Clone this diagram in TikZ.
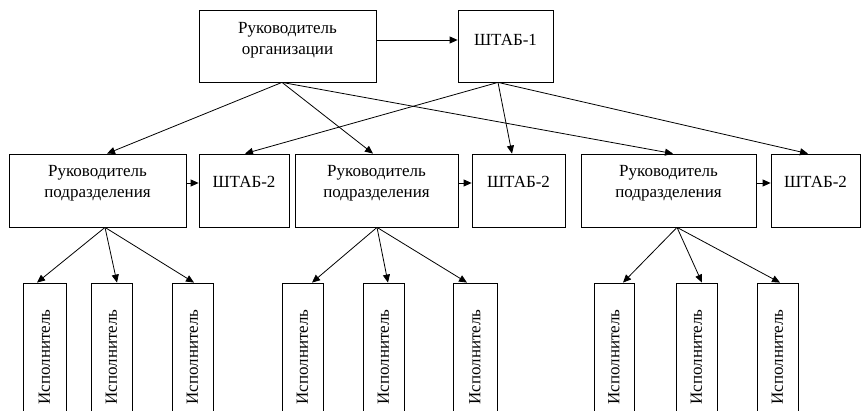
\documentclass[tikz,border=0pt]{standalone}
\usepackage{fontspec}
\setmainfont{Liberation Serif}
\usetikzlibrary{arrows.meta}
\begin{document}
\begin{tikzpicture}[x=1pt,y=-1pt,
  box/.style={draw, line width=0.8pt, inner sep=0pt, minimum height=#1},
  box/.default=73pt,
  lbl/.style={font=\fontsize{17}{21}\selectfont, align=center, inner sep=0pt},
  vlbl/.style={font=\fontsize{17}{21}\selectfont, inner sep=0pt, rotate=90},
  arr/.style={line width=0.8pt, -{Triangle[length=8pt,width=7pt]}}]
\useasboundingbox (0,0) rectangle (862,411);
\clip (0,0) rectangle (862,411);
% top row
\node[box=72pt, minimum width=177pt] (org) at (287.5,46) {};
\node[lbl] (orgt) at ([yshift=6pt]org.center) {Руководитель\\организации};
\node[box=72pt, minimum width=95pt] (s1) at (505.5,46) {};
\node[lbl] (s1t) at ([yshift=6pt]s1.center) {ШТАБ-1};
% second row
\node[box, minimum width=177pt] (b1) at (97.5,190.5) {};
\node[box, minimum width=90pt] (h1) at (244,190.5) {};
\node[box, minimum width=163pt] (b2) at (376.5,190.5) {};
\node[box, minimum width=93pt] (h2) at (518.5,190.5) {};
\node[box, minimum width=175pt] (b3) at (668.5,190.5) {};
\node[box, minimum width=89pt] (h3) at (815.5,190.5) {};
\foreach \n in {b1,b2,b3}
  \node[lbl] (\n t) at ([yshift=7.5pt]\n.center) {Руководитель\\подразделения};
\foreach \n in {h1,h2,h3}
  \node[lbl] (\n t) at ([yshift=9pt]\n.center) {ШТАБ-2};
% executors
\foreach \n/\x/\w in {e11/44.5/43, e12/111.5/41, e13/192.5/41,
                      e21/302.5/41, e22/383.5/41, e23/475/44,
                      e31/614/40, e32/696.5/41, e33/777.5/41}{
  \node[box=160pt, minimum width=\w pt] (\n) at (\x,363) {};
  \node[vlbl] (\n t) at ([yshift=6pt]\n.center) {Исполнитель};
}
% connectors
\draw[arr] ([yshift=6pt]org.east) -- ([yshift=6pt]s1.west);
\draw[arr] ([xshift=-5.5pt]org.south) -- ([xshift=9.5pt]b1.north);
\draw[arr] ([xshift=-5.5pt]org.south) -- ([xshift=-3.5pt]b2.north);
\draw[arr] ([xshift=-5.5pt]org.south) -- ([xshift=4.5pt]b3.north);
\draw[arr] ([xshift=-7.5pt]s1.south) -- ([xshift=1pt]h1.north);
\draw[arr] ([xshift=-7.5pt]s1.south) -- ([xshift=-6.5pt]h2.north);
\draw[arr] ([xshift=-7.5pt]s1.south) -- ([xshift=-7.5pt]h3.north);
\draw[arr] ([yshift=7.5pt]b1.east) -- ([yshift=7.5pt]h1.west);
\draw[arr] ([yshift=7.5pt]b2.east) -- ([yshift=7.5pt]h2.west);
\draw[arr] ([yshift=7.5pt]b3.east) -- ([yshift=7.5pt]h3.west);
\draw[arr] ([xshift=7.5pt]b1.south) -- ([xshift=-7.5pt]e11.north);
\draw[arr] ([xshift=7.5pt]b1.south) -- ([xshift=5.5pt]e12.north);
\draw[arr] ([xshift=7.5pt]b1.south) -- ([xshift=1.5pt]e13.north);
\draw[arr] ([xshift=0.5pt]b2.south) -- ([xshift=9.5pt]e21.north);
\draw[arr] ([xshift=0.5pt]b2.south) -- ([xshift=4.5pt]e22.north);
\draw[arr] ([xshift=0.5pt]b2.south) -- ([xshift=-8pt]e23.north);
\draw[arr] ([xshift=8.5pt]b3.south) -- ([xshift=9pt]e31.north);
\draw[arr] ([xshift=8.5pt]b3.south) -- ([xshift=5.5pt]e32.north);
\draw[arr] ([xshift=8.5pt]b3.south) -- ([xshift=2.5pt]e33.north);
\end{tikzpicture}
\end{document}
